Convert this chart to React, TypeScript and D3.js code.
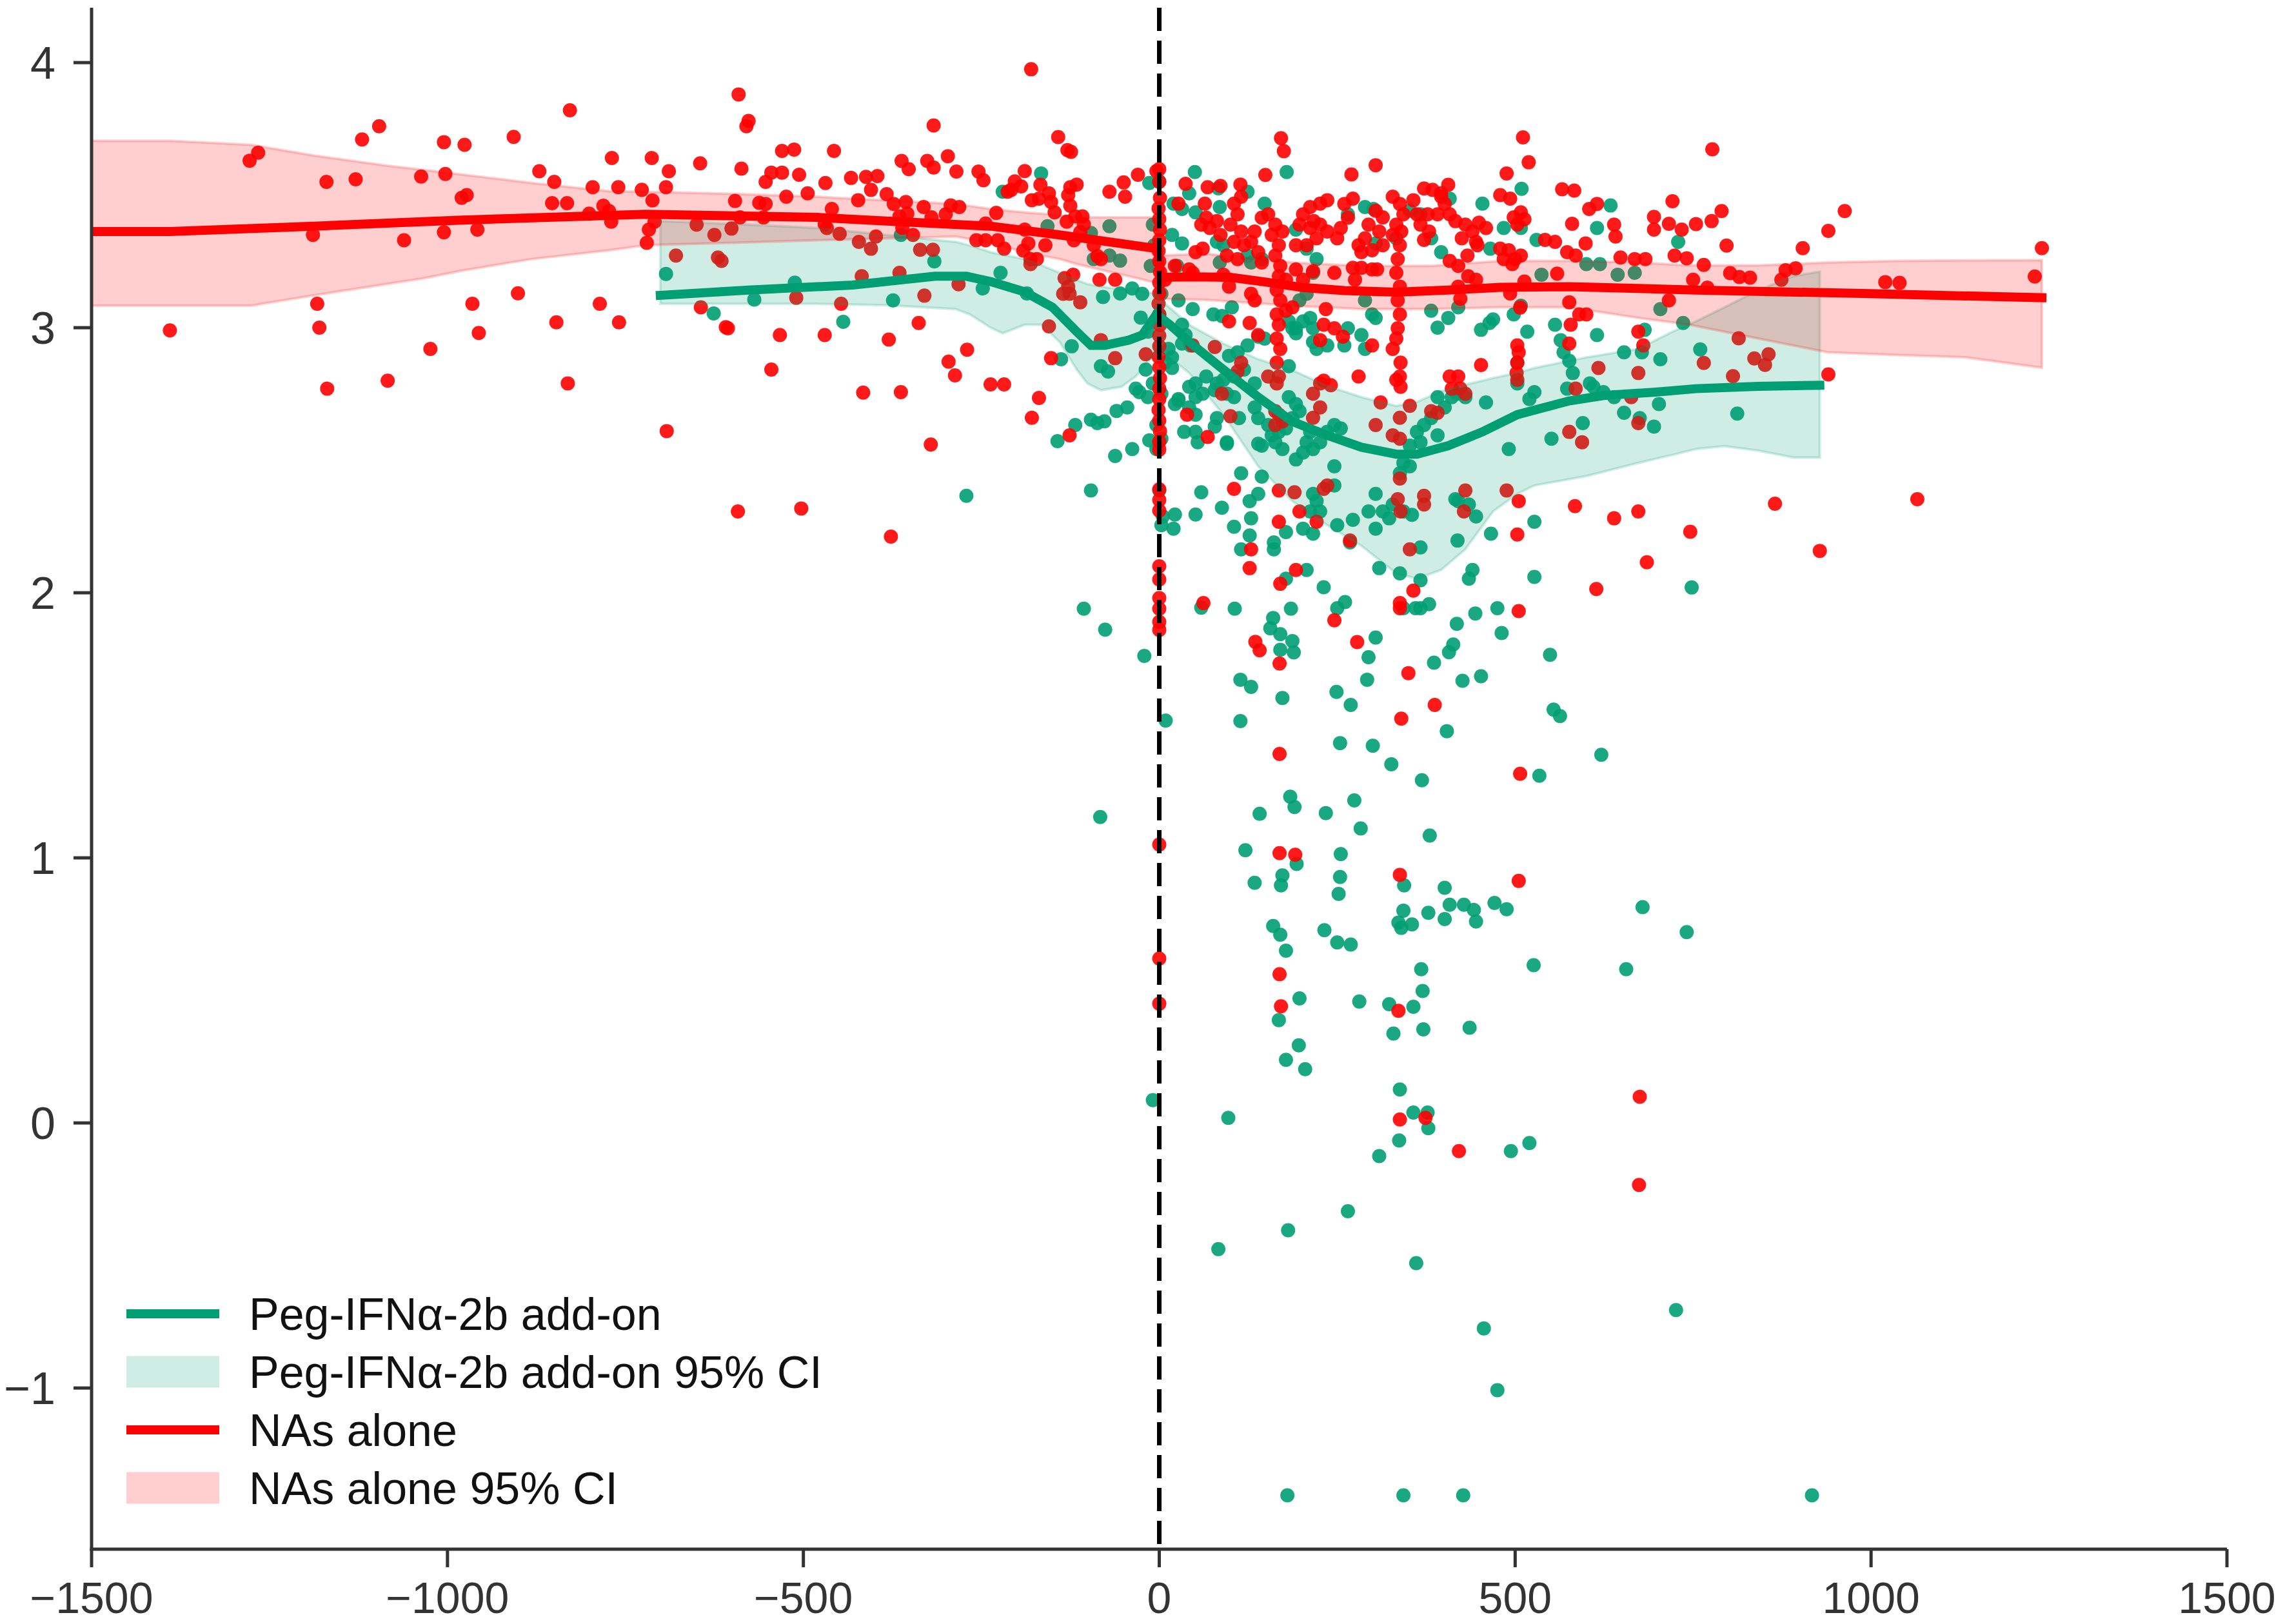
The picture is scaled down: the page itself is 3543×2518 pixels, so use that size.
import React from 'react';
import * as d3 from 'd3';

// ---- data (days from switch, value) ----
const redPoints: [number, number][] = [
  // pre-switch, far left
  [-828, 3.82], [-1096, 3.76], [-1120, 3.71], [-1005, 3.7], [-976, 3.69], [-907, 3.72], [-1266, 3.66], [-1278, 3.63],
  [-769, 3.64], [-713, 3.64], [-871, 3.59], [-850, 3.55], [-1170, 3.55], [-1129, 3.56], [-1037, 3.57], [-1003, 3.58],
  [-796, 3.53], [-760, 3.53], [-727, 3.52], [-973, 3.5], [-980, 3.49], [-853, 3.47], [-832, 3.47], [-781, 3.46],
  [-773, 3.44], [-801, 3.43], [-712, 3.48], [-770, 3.4], [-709, 3.4], [-717, 3.37], [-720, 3.32], [-1189, 3.35],
  [-1061, 3.33], [-1005, 3.36], [-958, 3.37], [-1183, 3.09], [-1180, 3.0], [-1390, 2.99], [-965, 3.09], [-901, 3.13],
  [-786, 3.09], [-847, 3.02], [-759, 3.02], [-956, 2.98], [-1024, 2.92], [-1084, 2.8], [-1169, 2.77], [-831, 2.79],
  [-692, 2.61], [-689, 3.59], [-693, 3.53],
  // pre-switch, -650 .. 0
  [-591, 3.88], [-577, 3.78], [-580, 3.76], [-645, 3.62], [-587, 3.6], [-553, 3.55], [-545, 3.585], [-530, 3.585],
  [-530, 3.667], [-513, 3.672], [-506, 3.577], [-524, 3.494], [-494, 3.507], [-469, 3.546], [-457, 3.667], [-433, 3.565],
  [-412, 3.569], [-396, 3.572], [-362, 3.629], [-352, 3.598], [-326, 3.629], [-317, 3.763], [-317, 3.604], [-297, 3.647],
  [-285, 3.589], [-254, 3.589], [-247, 3.556], [-180, 3.975], [-142, 3.719], [-129, 3.67], [-124, 3.663], [-189, 3.591],
  [-203, 3.552], [-208, 3.52], [-213, 3.513], [-194, 3.533], [-167, 3.539], [-155, 3.507], [-179, 3.481], [-169, 3.487],
  [-152, 3.474], [-147, 3.435], [-125, 3.53], [-116, 3.54], [-128, 3.5], [-125, 3.46], [-118, 3.42], [-108, 3.42],
  [-106, 3.39], [-130, 3.4], [-120, 3.33], [-111, 3.36], [-70, 3.513], [-50, 3.548], [-48, 3.494], [-30, 3.577],
  [-4, 3.591], [-596, 3.478], [-562, 3.471], [-553, 3.467], [-650, 3.389], [-625, 3.35], [-601, 3.374], [-589, 3.416],
  [-556, 3.416], [-470, 3.39], [-467, 3.376], [-460, 3.448], [-449, 3.354], [-423, 3.481], [-405, 3.52], [-383, 3.504],
  [-373, 3.467], [-356, 3.474], [-365, 3.42], [-354, 3.43], [-361, 3.377], [-346, 3.35], [-331, 3.455], [-320, 3.416],
  [-300, 3.428], [-293, 3.461], [-281, 3.455], [-422, 3.324], [-405, 3.298], [-398, 3.344], [-336, 3.294], [-318, 3.294],
  [-679, 3.272], [-620, 3.265], [-615, 3.252], [-229, 3.433], [-244, 3.393], [-257, 3.33], [-244, 3.33], [-227, 3.33],
  [-218, 3.298], [-189, 3.37], [-184, 3.318], [-191, 3.291], [-181, 3.259], [-172, 3.259], [-181, 3.24], [-160, 3.311],
  [-92, 3.311], [-82, 3.259], [-87, 3.27], [-84, 3.181], [-62, 3.181], [-133, 3.187], [-121, 3.2], [-135, 3.128],
  [-126, 3.128], [-111, 3.096], [-128, 3.155], [-418, 3.194], [-365, 3.207], [-282, 3.164], [-510, 3.113], [-447, 3.09],
  [-330, 3.121], [-644, 3.077], [-606, 2.998], [-609, 3.002], [-533, 2.972], [-470, 2.972], [-380, 2.955], [-338, 3.018],
  [-270, 2.917], [-296, 2.872], [-287, 2.82], [-545, 2.842], [-416, 2.755], [-363, 2.757], [-237, 2.786], [-218, 2.786],
  [-169, 2.735], [-179, 2.66], [-155, 3.005], [-152, 2.885], [-62, 2.885], [-19, 2.9], [-82, 2.953], [-126, 2.594],
  [-321, 2.559], [-592, 2.307], [-503, 2.318], [-377, 2.212],
  // stacked at the switch day
  [0, 3.598], [0, 3.55], [1, 3.49], [-1, 3.45], [0, 3.41], [1, 3.37], [0, 3.33], [-1, 3.29], [0, 3.25], [1, 3.21],
  [0, 3.17], [0, 3.13], [-1, 3.09], [0, 3.05], [1, 3.01], [0, 2.97], [0, 2.93], [-1, 2.89], [0, 2.85], [1, 2.81],
  [0, 2.77], [0, 2.73], [-1, 2.69], [0, 2.65], [1, 2.61], [0, 2.57], [0, 2.54], [0, 2.39], [0, 2.35], [0, 2.31],
  [0, 2.1], [0, 2.05], [0, 1.98], [0, 1.94], [0, 1.89], [0, 1.86], [0, 1.05], [0, 0.62], [0, 0.45],
  // post-switch
  [171, 3.715], [511, 3.718], [175, 3.666], [304, 3.613], [519, 3.624], [149, 3.576], [270, 3.578], [488, 3.582],
  [37, 3.543], [68, 3.53], [86, 3.535], [114, 3.54], [372, 3.525], [384, 3.52], [396, 3.507], [406, 3.539],
  [566, 3.522], [583, 3.517], [721, 3.477], [615, 3.467], [604, 3.448], [695, 3.418], [716, 3.392], [734, 3.37],
  [695, 3.37], [580, 3.392], [639, 3.389], [641, 3.344], [542, 3.331], [556, 3.324], [573, 3.285], [585, 3.272],
  [599, 3.318], [648, 3.265], [668, 3.259], [683, 3.259], [724, 3.272], [741, 3.262], [750, 3.181], [559, 3.204],
  [479, 3.5], [493, 3.487], [508, 3.435], [498, 3.416], [513, 3.409], [503, 3.389], [479, 3.298], [491, 3.292],
  [500, 3.259], [496, 3.24], [484, 3.259], [508, 3.272], [513, 3.174], [493, 3.129], [507, 3.076], [503, 2.933],
  [505, 2.907], [503, 2.868], [502, 2.829], [449, 3.396], [459, 3.376], [440, 3.363], [430, 3.389], [416, 3.402],
  [425, 3.337], [445, 3.324], [433, 3.272], [420, 3.233], [447, 3.311], [434, 3.194], [445, 3.181], [420, 3.155],
  [423, 3.109], [408, 3.252], [396, 3.494], [401, 3.467], [391, 3.428], [408, 3.428], [357, 3.481], [362, 3.428],
  [377, 3.428], [367, 3.389], [379, 3.363], [372, 3.331],
  [328, 3.494], [338, 3.467], [343, 3.428], [333, 3.389], [328, 3.35], [340, 3.363], [338, 3.311], [335, 3.259],
  [333, 3.207], [338, 3.155], [335, 3.103], [338, 3.05], [335, 2.998], [333, 2.959], [328, 2.92], [339, 2.868],
  [338, 2.816], [339, 2.777], [333, 2.803],
  [304, 3.441], [314, 3.416], [309, 3.363], [294, 3.389], [289, 3.337], [280, 3.311], [284, 3.285], [299, 3.292],
  [314, 3.311], [272, 3.487], [260, 3.467], [265, 3.415], [255, 3.376], [250, 3.337], [272, 3.226], [284, 3.226],
  [299, 3.22], [306, 3.22], [275, 3.181], [246, 3.207], [234, 3.07], [231, 3.011], [246, 2.998], [258, 2.966],
  [226, 2.953], [299, 2.933], [280, 2.816], [226, 3.468], [236, 3.481], [212, 3.455], [217, 3.402], [202, 3.428],
  [197, 3.389], [212, 3.376], [226, 3.389], [236, 3.363], [221, 3.337], [207, 3.311], [192, 3.311], [192, 3.22],
  [216, 3.213], [202, 3.181], [178, 3.181], [187, 3.077], [178, 3.064],
  [153, 3.428], [163, 3.389], [173, 3.363], [158, 3.35], [168, 3.311], [163, 3.272], [170, 3.233], [168, 3.194],
  [165, 3.142], [170, 3.103], [165, 3.05], [168, 3.011], [165, 2.959], [170, 2.92], [165, 2.868], [168, 2.816],
  [165, 2.79], [153, 2.816],
  [144, 3.415], [134, 3.363], [129, 3.324], [139, 3.285], [144, 3.246], [129, 3.128], [134, 3.103], [139, 2.972],
  [127, 3.018], [115, 3.494], [105, 3.468], [110, 3.428], [100, 3.389], [115, 3.363], [105, 3.324], [119, 3.311],
  [95, 3.272], [110, 3.259], [90, 3.2], [98, 3.155], [98, 3.024], [64, 3.468], [66, 3.415], [59, 3.389],
  [71, 3.376], [81, 3.402], [86, 3.35], [51, 3.285], [61, 3.298], [47, 3.207], [27, 3.468], [22, 3.233],
  [42, 3.22], [8, 3.181], [47, 2.933], [78, 2.927], [115, 2.868], [110, 2.835], [226, 2.79], [241, 2.783],
  [231, 2.8], [216, 2.751], [88, 2.751], [311, 2.718], [352, 2.705], [382, 2.685], [391, 2.679], [408, 2.816],
  [420, 2.816], [411, 2.77], [423, 2.77], [430, 2.751], [452, 2.859], [503, 2.803], [617, 2.848], [673, 2.829],
  [680, 2.933], [673, 2.985], [576, 2.94], [578, 3.011], [590, 3.05], [600, 3.05], [576, 3.096], [716, 3.103],
  [585, 2.77], [663, 2.738], [673, 2.64], [576, 2.607], [594, 2.568], [584, 2.327], [639, 2.281], [673, 2.307],
  [746, 2.23], [685, 2.115], [503, 2.22], [505, 2.346], [488, 2.386], [430, 2.386], [428, 2.307], [372, 2.366],
  [372, 2.333], [338, 2.66], [338, 2.581], [328, 2.594], [338, 2.431], [335, 2.353], [339, 2.307], [352, 2.164],
  [304, 2.633], [268, 2.197], [231, 2.392], [236, 2.405], [216, 2.66], [226, 2.699], [197, 2.307], [221, 2.268],
  [168, 2.386], [190, 2.379], [168, 2.268], [163, 2.685], [168, 2.672], [173, 2.646], [163, 2.633], [105, 2.392],
  [100, 2.666], [68, 2.588], [39, 2.672], [129, 2.164], [127, 2.093], [192, 2.086], [170, 2.034], [357, 2.008],
  [614, 2.014],
  [777, 3.673], [790, 3.44], [754, 3.391], [776, 3.402], [797, 3.31], [963, 3.44], [940, 3.365], [904, 3.3],
  [765, 3.237], [802, 3.206], [815, 3.191], [830, 3.189], [770, 3.151], [880, 3.217], [894, 3.224], [874, 3.181],
  [1020, 3.172], [1040, 3.169], [1240, 3.3], [1230, 3.193], [814, 2.96], [765, 2.867], [836, 2.884], [856, 2.9],
  [851, 2.86], [806, 2.817], [940, 2.824], [865, 2.336], [1065, 2.353], [928, 2.158],
  [62, 1.961], [338, 1.961], [338, 1.942], [246, 1.896], [505, 1.931], [135, 1.815], [141, 1.783], [278, 1.814],
  [169, 1.733], [350, 1.697], [387, 1.577], [340, 1.525], [169, 1.392], [507, 1.317], [169, 1.018], [191, 1.012],
  [338, 0.936], [505, 0.913], [169, 0.561], [171, 0.44], [336, 0.423], [338, 0.013], [374, 0.019], [675, 0.099],
  [421, -0.106], [674, -0.234],
];

const greenPoints: [number, number][] = [
  [-693, 3.203], [-626, 3.054], [-569, 3.106], [-512, 3.17], [-444, 3.022], [-374, 3.103], [-316, 3.25], [-363, 3.35],
  [-248, 3.148], [-223, 3.207], [-220, 3.513], [-166, 3.582], [-186, 3.129], [-157, 3.383], [-96, 3.357], [-70, 3.383],
  [-92, 3.259], [-70, 3.272], [-55, 3.253], [-79, 3.116], [-55, 3.129], [-38, 3.148], [-123, 2.93], [-138, 2.881],
  [-82, 2.855], [-72, 2.835], [-33, 2.77], [-28, 2.757], [-60, 2.686], [-45, 2.699], [-96, 2.653], [-87, 2.64],
  [-77, 2.647], [-118, 2.633], [-143, 2.572], [-38, 2.542], [-62, 2.516], [-271, 2.366], [-96, 2.386], [-14, 3.546],
  [0, 3.552], [-9, 3.389], [-7, 3.311], [-12, 3.233], [-24, 3.128], [-26, 3.038], [-16, 2.985], [-19, 2.842],
  [-9, 2.79], [-16, 2.738], [-4, 2.633], [-14, 2.575], [-4, 2.542], [5, 2.288], [22, 2.295], [20, 2.242],
  [0, 2.386], [20, 3.468], [32, 3.448], [18, 3.35], [32, 3.318], [25, 3.233], [27, 3.103], [32, 2.94],
  [18, 2.888], [18, 2.848], [27, 2.725], [35, 2.607],
  [50, 3.587], [179, 3.587], [42, 3.507], [51, 3.435], [83, 3.526], [85, 3.455], [81, 3.324], [90, 3.311],
  [85, 3.246], [124, 3.513], [124, 3.272], [129, 3.246], [144, 3.259], [148, 3.468], [192, 3.37], [207, 3.298],
  [221, 3.259], [216, 3.207], [265, 3.428], [289, 3.455], [301, 3.448], [304, 3.318], [333, 3.337], [352, 3.441],
  [367, 3.428], [382, 3.337], [396, 3.285], [408, 3.487], [454, 3.468], [465, 3.298], [484, 3.376], [508, 3.376],
  [509, 3.524], [530, 3.331], [615, 3.376], [634, 3.461], [600, 3.24], [619, 3.24], [537, 3.2], [644, 3.2],
  [668, 3.207], [729, 3.324], [704, 3.07], [736, 3.018], [682, 2.992], [678, 2.907], [653, 2.907], [704, 2.881],
  [702, 2.712], [695, 2.627], [675, 2.659], [653, 2.679], [581, 2.829], [573, 2.77], [605, 2.79], [610, 2.777],
  [624, 2.757], [639, 2.738], [595, 2.64], [551, 2.581], [556, 3.011], [564, 2.953], [568, 2.907], [576, 2.875],
  [615, 2.972], [527, 2.268], [491, 2.542], [517, 2.985], [498, 3.05], [508, 3.083], [503, 2.868], [503, 2.79],
  [520, 2.731], [527, 2.757], [459, 2.718], [464, 3.018], [469, 3.031], [452, 2.992], [430, 2.738], [418, 2.751],
  [411, 2.738], [420, 2.346], [416, 2.353], [435, 2.333], [445, 2.288], [419, 2.197], [466, 2.223], [382, 3.064],
  [406, 3.037], [391, 3.0], [420, 3.077], [391, 2.738], [401, 2.699], [382, 2.659], [372, 2.633], [391, 2.594],
  [367, 2.568], [352, 2.555], [362, 2.607], [343, 2.49], [338, 2.451], [352, 2.477], [355, 2.294], [343, 2.307],
  [328, 2.333], [323, 2.281], [314, 2.307], [294, 2.307], [304, 2.242], [367, 2.171], [338, 2.073], [367, 2.047],
  [309, 2.093], [304, 2.373], [272, 2.275], [250, 2.255], [246, 2.477], [246, 2.405], [216, 2.373], [221, 2.346],
  [212, 2.307], [226, 2.307], [216, 2.223], [202, 2.242], [246, 2.633], [255, 2.62], [236, 2.607], [226, 2.568],
  [212, 2.607], [207, 2.568], [216, 2.542], [202, 2.529], [192, 2.503], [182, 2.738], [192, 2.712], [197, 2.685],
  [187, 2.659], [173, 2.659], [178, 2.62], [168, 2.607], [158, 2.594], [163, 2.568], [173, 2.542], [153, 2.633],
  [134, 2.699], [139, 2.659], [144, 2.555], [182, 2.855], [192, 2.979], [187, 2.998], [216, 2.946], [236, 2.933],
  [221, 2.92], [260, 2.933], [289, 2.92], [284, 2.972], [265, 2.998], [299, 3.05], [304, 3.037], [289, 3.103],
  [212, 3.037], [202, 3.024], [216, 2.998], [197, 3.103], [207, 3.128], [182, 3.024], [192, 2.998], [139, 2.966],
  [148, 2.959], [124, 2.933], [119, 2.842], [134, 2.79], [110, 2.907], [98, 2.894], [105, 2.816], [90, 2.803],
  [81, 2.79], [78, 2.764], [95, 2.751], [105, 2.738], [112, 2.659], [81, 2.659], [78, 2.627], [95, 2.568],
  [51, 2.79], [42, 2.777], [51, 2.738], [61, 2.751], [66, 2.816], [27, 2.731], [22, 2.712], [42, 2.699],
  [51, 2.672], [51, 2.607], [54, 2.568], [95, 2.562], [139, 2.562], [76, 3.05], [88, 3.044], [102, 3.077],
  [13, 2.92], [8, 2.868], [32, 3.011], [37, 2.972], [44, 2.933], [47, 3.07], [3, 3.128], [0, 3.05],
  [3, 2.751], [3, 2.581], [3, 2.255], [51, 2.295], [59, 2.379], [88, 2.321], [105, 2.249], [115, 2.164],
  [127, 2.216], [129, 2.281], [127, 2.346], [139, 2.373], [144, 2.438], [115, 2.451], [161, 2.19], [161, 2.164],
  [178, 2.229], [178, 2.053], [207, 2.086], [231, 2.021], [268, 2.19], [527, 2.06], [435, 2.053], [440, 2.086],
  [748, 2.02], [760, 2.918], [812, 2.676],
  [-106, 1.94], [-76, 1.861], [-21, 1.762], [59, 1.944], [106, 1.94], [185, 1.94], [160, 1.905], [156, 1.866],
  [170, 1.844], [187, 1.818], [170, 1.785], [189, 1.775], [250, 1.942], [261, 1.965], [304, 1.831], [294, 1.757],
  [292, 1.672], [114, 1.672], [129, 1.645], [173, 1.603], [249, 1.626], [269, 1.577], [114, 1.516], [9, 1.518],
  [343, 1.942], [360, 1.942], [367, 1.942], [379, 1.957], [444, 1.922], [475, 1.942], [481, 1.848], [418, 1.883],
  [413, 1.805], [407, 1.776], [386, 1.736], [426, 1.668], [452, 1.685], [549, 1.766], [554, 1.559], [563, 1.535],
  [404, 1.478], [254, 1.433], [300, 1.423], [326, 1.353], [369, 1.293], [534, 1.31], [184, 1.231], [190, 1.192],
  [141, 1.166], [234, 1.169], [274, 1.217], [283, 1.111], [380, 1.084], [-83, 1.154], [121, 1.029], [255, 1.014],
  [193, 0.977], [173, 0.934], [171, 0.896], [134, 0.906], [254, 0.928], [252, 0.864], [344, 0.896], [401, 0.887],
  [343, 0.801], [336, 0.756], [340, 0.736], [355, 0.749], [378, 0.793], [401, 0.769], [408, 0.823], [428, 0.823],
  [442, 0.804], [445, 0.76], [471, 0.83], [488, 0.806], [160, 0.743], [170, 0.71], [178, 0.65], [232, 0.727],
  [250, 0.681], [269, 0.673], [526, 0.595], [368, 0.58], [370, 0.498], [197, 0.47], [168, 0.388], [281, 0.458],
  [323, 0.448], [357, 0.438], [329, 0.337], [371, 0.353], [436, 0.359], [196, 0.293], [178, 0.238], [205, 0.203],
  [338, 0.126], [-9, 0.086], [97, 0.019], [357, 0.039], [377, 0.039], [621, 1.389], [679, 0.814], [741, 0.72],
  [656, 0.58], [378, -0.02], [337, -0.066], [309, -0.125], [494, -0.106], [520, -0.076], [265, -0.333], [181, -0.405],
  [83, -0.476], [361, -0.529], [726, -0.706], [456, -0.775], [475, -1.008], [180, -1.405], [343, -1.405], [427, -1.405],
  [917, -1.405],
];

// smoothed trend lines [x, y]
const redTrend: [number, number][] = [
  [-1500, 3.363], [-1390, 3.363], [-1188, 3.383], [-980, 3.406], [-722, 3.428], [-480, 3.416], [-383, 3.402],
  [-237, 3.383], [-140, 3.35], [-2, 3.298], [2, 3.19], [50, 3.192], [100, 3.19], [150, 3.172], [200, 3.152],
  [260, 3.14], [333, 3.134], [406, 3.142], [479, 3.152], [576, 3.155], [673, 3.148], [754, 3.142], [988, 3.129],
  [1240, 3.113],
];
const greenTrend: [number, number][] = [
  [-701, 3.122], [-577, 3.142], [-431, 3.161], [-315, 3.194], [-271, 3.194], [-237, 3.174], [-189, 3.135],
  [-150, 3.077], [-116, 2.985], [-96, 2.933], [-77, 2.933], [-43, 2.953], [-24, 2.972], [-4, 3.05], [15, 3.011],
  [42, 2.946], [90, 2.842], [139, 2.738], [187, 2.646], [236, 2.594], [284, 2.549], [333, 2.523], [362, 2.523],
  [406, 2.555], [454, 2.607], [503, 2.672], [576, 2.724], [624, 2.744], [697, 2.757], [754, 2.77], [842, 2.779],
  [928, 2.783],
];

// 95% CI bands [x, lower, upper]
const redBand: [number, number, number][] = [
  [-1500, 3.083, 3.705], [-1390, 3.083, 3.705], [-1276, 3.083, 3.69], [-1188, 3.122, 3.65], [-1084, 3.165, 3.611],
  [-1032, 3.187, 3.595], [-980, 3.215, 3.578], [-881, 3.259, 3.546], [-772, 3.292, 3.515], [-722, 3.311, 3.513],
  [-600, 3.32, 3.505], [-480, 3.33, 3.494], [-286, 3.344, 3.467], [-237, 3.32, 3.448], [-189, 3.285, 3.435],
  [-140, 3.259, 3.425], [-116, 3.24, 3.416], [-43, 3.194, 3.416], [-2, 3.168, 3.416], [2, 3.109, 3.272],
  [66, 3.105, 3.279], [187, 3.083, 3.246], [284, 3.07, 3.233], [382, 3.07, 3.233], [479, 3.077, 3.252],
  [576, 3.077, 3.252], [673, 3.037, 3.246], [745, 3.011, 3.235], [842, 2.959, 3.235], [939, 2.907, 3.246],
  [1036, 2.897, 3.252], [1133, 2.888, 3.254], [1240, 2.849, 3.255],
];
const greenBand: [number, number, number][] = [
  [-701, 3.09, 3.402], [-577, 3.09, 3.389], [-480, 3.09, 3.376], [-383, 3.085, 3.35], [-286, 3.07, 3.324],
  [-266, 3.05, 3.31], [-237, 3.0, 3.285], [-220, 2.979, 3.275], [-189, 3.011, 3.259], [-165, 3.011, 3.235],
  [-140, 2.946, 3.207], [-116, 2.842, 3.18], [-101, 2.79, 3.165], [-82, 2.764, 3.155], [-53, 2.777, 3.145],
  [-33, 2.816, 3.142], [-9, 2.894, 3.13], [0, 2.92, 3.11], [42, 2.829, 3.011], [90, 2.672, 2.94],
  [139, 2.477, 2.881], [187, 2.346, 2.84], [236, 2.255, 2.78], [284, 2.177, 2.738], [333, 2.073, 2.705],
  [362, 2.053, 2.72], [396, 2.086, 2.76], [430, 2.164, 2.785], [469, 2.307, 2.81], [503, 2.373, 2.83],
  [527, 2.405, 2.848], [600, 2.44, 2.888], [673, 2.49, 2.92], [721, 2.52, 2.985], [754, 2.542, 3.024],
  [794, 2.553, 3.077], [842, 2.536, 3.142], [891, 2.51, 3.195], [928, 2.51, 3.211],
];

const xTicks = [-1500, -1000, -500, 0, 500, 1000, 1500];
const yTicks = [-1, 0, 1, 2, 3, 4];
const legendItems = [
  { label: 'Peg-IFNα-2b add-on', kind: 'line', color: '#009E73' },
  { label: 'Peg-IFNα-2b add-on 95% CI', kind: 'patch', color: '#009E73' },
  { label: 'NAs alone', kind: 'line', color: '#FF0000' },
  { label: 'NAs alone 95% CI', kind: 'patch', color: '#FF0000' },
];

const W = 3543;
const H = 2518;
const margin = { left: 142, right: 90, top: 12, bottom: 116 };
const GREEN = '#009E73';
const RED = '#FF0000';
const AXIS = '#333333';
const FONT = '"Liberation Sans", Arial, Helvetica, sans-serif';

const App: React.FC = () => {
  const x = d3.scaleLinear().domain([-1500, 1500]).range([margin.left, W - margin.right]);
  const y = d3.scaleLinear().domain([-1.608, 4.207]).range([H - margin.bottom, margin.top]);
  const x0 = x.range()[0];
  const x1 = x.range()[1];
  const yBottom = y.range()[0];
  const yTop = y.range()[1];

  const line = d3
    .line<[number, number]>()
    .x((d) => x(d[0]))
    .y((d) => y(d[1]));
  const band = d3
    .area<[number, number, number]>()
    .x((d) => x(d[0]))
    .y0((d) => y(d[1]))
    .y1((d) => y(d[2]));

  const fmt = d3.format('d');

  return (
    <svg
      width={W}
      height={H}
      style={{ position: 'absolute', left: 0, top: 0, background: '#fff' }}
      fontFamily={FONT}
    >
      <defs>
        <clipPath id="plot-area">
          <rect x={x0} y={yTop} width={x1 - x0} height={yBottom - yTop} />
        </clipPath>
      </defs>

      <g clipPath="url(#plot-area)">
        {/* scatter */}
        {greenPoints.map((d, i) => (
          <circle key={`g${i}`} cx={x(d[0])} cy={y(d[1])} r={11} fill={GREEN} fillOpacity={0.9} />
        ))}
        {redPoints.map((d, i) => (
          <circle key={`r${i}`} cx={x(d[0])} cy={y(d[1])} r={11} fill={RED} fillOpacity={0.9} />
        ))}

        {/* confidence bands */}
        <path d={band(greenBand) || ''} fill={GREEN} fillOpacity={0.19} stroke={GREEN} strokeOpacity={0.19} strokeWidth={4} />
        <path d={band(redBand) || ''} fill={RED} fillOpacity={0.19} stroke={RED} strokeOpacity={0.19} strokeWidth={4} />

        {/* trend lines */}
        <path d={line(greenTrend) || ''} fill="none" stroke={GREEN} strokeWidth={14} strokeLinecap="square" />
        <path d={line(redTrend) || ''} fill="none" stroke={RED} strokeWidth={14} strokeLinecap="square" />

        {/* switch day */}
        <line
          x1={x(0)}
          x2={x(0)}
          y1={yTop}
          y2={yBottom}
          stroke="#000"
          strokeWidth={7}
          strokeDasharray="36 15"
        />
      </g>

      {/* spines */}
      <line x1={x0} x2={x0} y1={yTop} y2={yBottom + 2.5} stroke={AXIS} strokeWidth={5} />
      <line x1={x0 - 2.5} x2={x1} y1={yBottom} y2={yBottom} stroke={AXIS} strokeWidth={5} />

      {/* x axis */}
      {xTicks.map((t) => (
        <g key={`xt${t}`}>
          <line x1={x(t)} x2={x(t)} y1={yBottom} y2={yBottom + 28} stroke={AXIS} strokeWidth={5} />
          <text x={x(t)} y={yBottom + 99} fontSize={68} textAnchor="middle" fill={AXIS}>
            {fmt(t)}
          </text>
        </g>
      ))}

      {/* y axis */}
      {yTicks.map((t) => (
        <g key={`yt${t}`}>
          <line x1={x0 - 28} x2={x0} y1={y(t)} y2={y(t)} stroke={AXIS} strokeWidth={5} />
          <text x={x0 - 56} y={y(t) + 25} fontSize={70} textAnchor="end" fill={AXIS}>
            {fmt(t)}
          </text>
        </g>
      ))}

      {/* legend */}
      <g transform="translate(196, 2037)">
        {legendItems.map((item, i) => (
          <g key={item.label} transform={`translate(0, ${i * 90})`}>
            {item.kind === 'line' ? (
              <line x1={0} x2={144} y1={0} y2={0} stroke={item.color} strokeWidth={14} />
            ) : (
              <rect x={0} y={-24.5} width={144} height={49} fill={item.color} fillOpacity={0.19} />
            )}
            <text x={190} y={25} fontSize={70} fill="#111">
              {item.label}
            </text>
          </g>
        ))}
      </g>
    </svg>
  );
};

export default App;
